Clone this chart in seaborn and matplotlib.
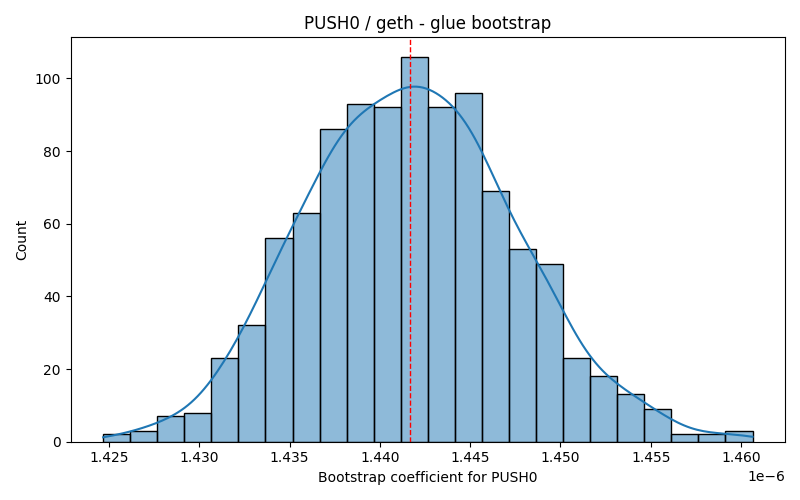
import numpy as np
import pandas as pd
import matplotlib
matplotlib.use("Agg")
import matplotlib.pyplot as plt
import seaborn as sns

# bin counts (24 bins)
counts = [2, 3, 7, 8, 23, 32, 56, 63, 86, 93, 92, 106,
          92, 96, 69, 53, 49, 23, 18, 13, 9, 2, 2, 3]
bin_lo = 1.42467e-6
bin_hi = 1.46064e-6
mean_coef = 1.44167e-6

n_bins = len(counts)
width = (bin_hi - bin_lo) / n_bins
centers = bin_lo + width * (np.arange(n_bins) + 0.5)
df = pd.DataFrame({"coef": centers, "n": counts})

fig, ax = plt.subplots(figsize=(8, 5), dpi=100)
sns.histplot(data=df, x="coef", weights="n", bins=n_bins,
             binrange=(bin_lo, bin_hi), kde=True,
             kde_kws={"bw_adjust": 0.42, "cut": 3, "clip": (bin_lo, bin_hi)},
             ax=ax)
ax.axvline(mean_coef, color="red", linestyle="--", linewidth=1)
ax.set_title("PUSH0 / geth - glue bootstrap")
ax.set_xlabel("Bootstrap coefficient for PUSH0")
ax.set_ylabel("Count")
plt.tight_layout()
plt.savefig("out.png")
